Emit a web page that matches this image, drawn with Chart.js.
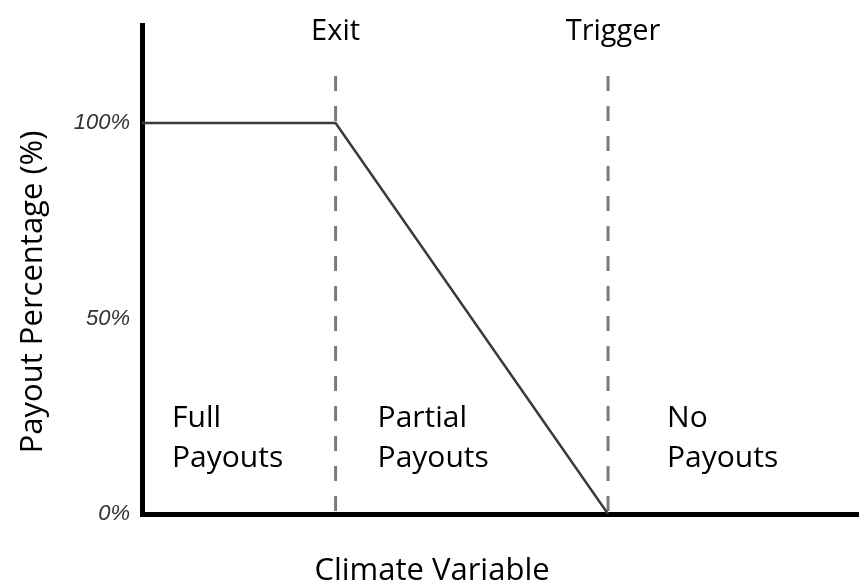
<!DOCTYPE html>
<html>
<head>
<meta charset="utf-8">
<script src="https://cdn.jsdelivr.net/npm/chart.js@4/dist/chart.umd.min.js"></script>
<style>
  html, body { margin: 0; padding: 0; background: #fff; }
  #wrap { width: 859px; height: 583px; position: relative; }
</style>
</head>
<body>
<div id="wrap"><canvas id="payout"></canvas></div>
<script>
// ── DATA ─────────────────────────────────────────────────────────────────────
const climateX   = [0, 27, 65];          // start, exit, trigger (climate variable units)
const payoutPct  = [100, 100, 0];        // payout at those points
const exitValue = 27;
const triggerValue = 65;
const markerTop = 112;                   // where the dashed guides start
const yTicks = [0, 50, 100];
const markerLabels = ['Exit', 'Trigger'];
const regionLabels = [['Full', 'Payouts'], ['Partial', 'Payouts'], ['No', 'Payouts']];
const xTitle = 'Climate Variable';
const yTitle = 'Payout Percentage (%)';

const TEXT_FONT = '"Open Sans", "DejaVu Sans", sans-serif';

// ── LABEL PLUGIN ─────────────────────────────────────────────────────────────
const labelPlugin = {
  id: 'labels',
  afterDraw(chart) {
    const { ctx, chartArea, scales: { x } } = chart;
    const exitPx = x.getPixelForValue(exitValue);
    const trigPx = x.getPixelForValue(triggerValue);
    ctx.save();
    ctx.fillStyle = '#000';
    ctx.textBaseline = 'alphabetic';

    // marker names on top
    ctx.font = '500 29px ' + TEXT_FONT;
    ctx.textAlign = 'center';
    ctx.fillText(markerLabels[0], exitPx, 40);
    ctx.fillText(markerLabels[1], trigPx + 5, 40);

    // region names
    ctx.font = '500 30px ' + TEXT_FONT;
    ctx.textAlign = 'left';
    const starts = [chartArea.left + 30, exitPx + 42, trigPx + 59];
    regionLabels.forEach((lines, i) => {
      lines.forEach((t, j) => ctx.fillText(t, starts[i], 427 + j * 40));
    });

    // axis titles
    ctx.font = '500 31px ' + TEXT_FONT;
    ctx.textAlign = 'center';
    ctx.fillText(xTitle, 432, 580);
    ctx.translate(42, 292);
    ctx.rotate(-Math.PI / 2);
    ctx.fillText(yTitle, 0, 0);
    ctx.restore();
  }
};

// ── CHART ────────────────────────────────────────────────────────────────────
const guide = v => [{ x: v, y: markerTop }, { x: v, y: 0 }];

new Chart(document.getElementById('payout'), {
  type: 'line',
  data: {
    datasets: [
      {
        data: climateX.map((v, i) => ({ x: v, y: payoutPct[i] })),
        borderColor: '#3a3a3a', borderWidth: 2.5, pointRadius: 0, tension: 0
      },
      { data: guide(exitValue), borderColor: '#7a7a7a', borderWidth: 3, borderDash: [15, 15], pointRadius: 0 },
      { data: guide(triggerValue), borderColor: '#7a7a7a', borderWidth: 3, borderDash: [15, 15], pointRadius: 0 }
    ]
  },
  options: {
    responsive: true, maintainAspectRatio: false, animation: false,
    layout: { padding: { top: 25, right: 0, left: 0, bottom: 0 } },
    plugins: { legend: { display: false }, tooltip: { enabled: false } },
    scales: {
      x: {
        type: 'linear', min: 0, max: 100,
        grid: { display: false, drawTicks: false },
        border: { display: true, color: '#000', width: 5 },
        ticks: { display: false },
        afterFit: s => { s.height = 69; }
      },
      y: {
        type: 'linear', min: 0, max: 125,
        grid: { display: false, drawTicks: false },
        border: { display: true, color: '#000', width: 5 },
        ticks: {
          padding: 12, color: '#333',
          font: { family: '"Liberation Sans", Arial, sans-serif', size: 22, style: 'italic' },
          callback: v => v + '%'
        },
        afterBuildTicks: s => { s.ticks = yTicks.map(v => ({ value: v })); },
        afterFit: s => { s.width = 142; }
      }
    }
  },
  plugins: [labelPlugin]
});
</script>
</body>
</html>
